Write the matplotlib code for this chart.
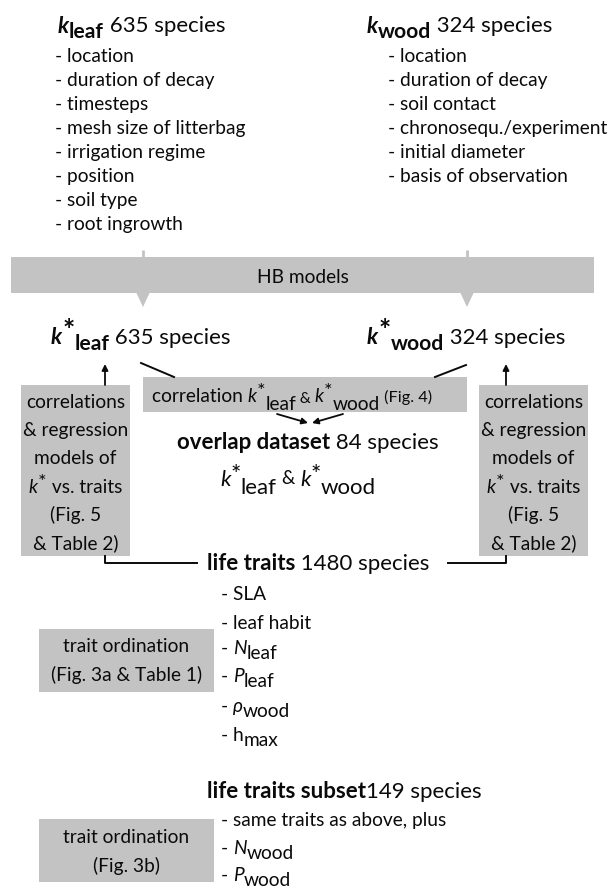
import matplotlib
matplotlib.use("Agg")
import matplotlib.pyplot as plt
from matplotlib.patches import Rectangle, Polygon

plt.rcParams['font.family'] = ['Lato', 'DejaVu Sans']

# text content of the flow chart
n_leaf = 635
n_wood = 324
n_overlap = 84
n_traits = 1480
n_subset = 149
leaf_factors = ["location", "duration of decay", "timesteps", "mesh size of litterbag",
                "irrigation regime", "position", "soil type", "root ingrowth"]
wood_factors = ["location", "duration of decay", "soil contact", "chronosequ./experiment",
                "initial diameter", "basis of observation"]
side_box_lines = ["correlations", "& regression", "models of", None, "(Fig. 5", "& Table 2)"]
traits = [("SLA", None), ("leaf habit", None), ("N", "leaf"), ("P", "leaf"),
          ("ρ", "wood"), ("h", "max")]
subset_traits = [("same traits as above, plus", None), ("N", "wood"), ("P", "wood")]

GRAY = "#c3c3c3"
INK = "#0a0a0a"
BODY = 13.8
TITLE = 16

fig = plt.figure(figsize=(6.09, 8.90), dpi=100)
ax = fig.add_axes([0, 0, 1, 1])
ax.set_xlim(0, 609)
ax.set_ylim(890, 0)
ax.axis("off")
renderer = fig.canvas.get_renderer()

STYLES = {"r": ("normal", "normal"), "b": ("bold", "normal"),
          "i": ("normal", "italic"), "bi": ("bold", "italic")}


def rich(x, y, parts, size, ha="left"):
    """parts: (text, style, dy, scale); y is baseline, dy moves down"""
    items = []
    cur = 0
    for s, st, dy, sc in parts:
        w, sl = STYLES[st]
        t = ax.text(0, y + dy, s, fontsize=size * sc, fontweight=w, fontstyle=sl,
                    color=INK, va="baseline", ha="left")
        wd = t.get_window_extent(renderer).width
        items.append((t, cur))
        cur += wd
    x0 = x - cur / 2 if ha == "center" else x
    for t, off in items:
        t.set_x(x0 + off)
    return cur


# --- top titles and lists
rich(58, 33, [("k", "bi", 0, 1), ("leaf", "b", 5, 0.95), (" %d species" % n_leaf, "r", -1, 1)], TITLE)
for i, s in enumerate(leaf_factors):
    ax.text(55, 62 + 24 * i, "- " + s, fontsize=BODY, color=INK, va="baseline")

rich(367, 33, [("k", "bi", 0, 1), ("wood", "b", 5, 0.95), (" %d species" % n_wood, "r", -1, 1)], TITLE)
for i, s in enumerate(wood_factors):
    ax.text(388, 62 + 24 * i, "- " + s, fontsize=BODY, color=INK, va="baseline")

# --- HB models bar
for xc in (143, 467):
    ax.plot([xc, xc], [250, 258], color=GRAY, lw=2, solid_capstyle="butt")
    ax.add_patch(Polygon([[xc - 7, 292], [xc + 7, 292], [xc, 307]], closed=True, color=GRAY, lw=0))
ax.add_patch(Rectangle((11, 257), 583, 36, color=GRAY, lw=0))
ax.text(303, 283, "HB models", fontsize=BODY, color=INK, ha="center", va="baseline")

# --- k* titles
rich(51, 344, [("k", "bi", 0, 1), ("*", "b", -5, 1.3), ("leaf", "b", 6, 0.95),
               (" %d species" % n_leaf, "r", 0, 1)], TITLE)
rich(367, 344, [("k", "bi", 0, 1), ("*", "b", -5, 1.3), ("wood", "b", 6, 0.95),
                (" %d species" % n_wood, "r", 0, 1)], TITLE)

# connectors from k* to correlation box
ax.plot([141, 174], [363, 377], color=INK, lw=1.4)
ax.plot([466, 435], [365, 377], color=INK, lw=1.4)

# correlation box
ax.add_patch(Rectangle((143, 377), 324, 35, color=GRAY, lw=0))
rich(152, 402, [("correlation ", "r", 0, 1), ("k", "i", 0, 1), ("*", "r", -5, 1.05),
                ("leaf", "r", 8, 1), (" & ", "r", 1, 0.8), ("k", "i", 0, 1), ("*", "r", -5, 1.05),
                ("wood", "r", 8, 1), (" (Fig. 4)", "r", 0, 0.85)], BODY)

# arrows to overlap dataset
arrow = dict(arrowstyle="-|>", lw=1.3, color=INK, mutation_scale=9, shrinkA=0, shrinkB=0)
ax.annotate("", xy=(308, 423), xytext=(277, 414), arrowprops=arrow)
ax.annotate("", xy=(312, 423), xytext=(343, 414), arrowprops=arrow)

rich(308, 449, [("overlap dataset", "b", 0, 1), (" %d species" % n_overlap, "r", 0, 1)], TITLE, ha="center")
rich(298, 486, [("k", "i", 0, 1), ("*", "r", -5, 1.1), ("leaf", "r", 8, 1), (" & ", "r", -2, 0.85),
                ("k", "i", 0, 1), ("*", "r", -5, 1.1), ("wood", "r", 8, 1)], TITLE, ha="center")

# side boxes
for bx, ax_arrow in ((21, 105), (479, 506)):
    ax.add_patch(Rectangle((bx, 385), 109, 171, color=GRAY, lw=0))
    cx = bx + 54.5
    for j, s in enumerate(side_box_lines):
        yb = 408 + 28.2 * j
        if s is None:
            rich(cx, yb, [("k", "i", 0, 1), ("*", "r", -5, 1.05), (" vs. traits", "r", 0, 1)], BODY, ha="center")
        else:
            ax.text(cx, yb, s, fontsize=BODY, color=INK, ha="center", va="baseline")
    ax.annotate("", xy=(ax_arrow, 364), xytext=(ax_arrow, 385), arrowprops=arrow)

# brackets to life traits
ax.plot([105, 105, 197], [556, 563, 563], color=INK, lw=1.4)
ax.plot([448, 506, 506], [563, 563, 556], color=INK, lw=1.4)

rich(207, 570, [("life traits", "b", 0, 1), (" %d species" % n_traits, "r", 0, 1)], TITLE)


def trait_item(x, y, name, sub):
    if sub is None:
        ax.text(x, y, "- " + name, fontsize=BODY, color=INK, va="baseline")
    else:
        st = "r" if name == "h" else "i"
        rich(x, y, [("- ", "r", 0, 1), (name, st, 0, 1), (sub, "r", 5, 1)], BODY)


trait_y = [600, 629, 654, 682, 712, 741]
for (name, sub), yb in zip(traits, trait_y):
    trait_item(221, yb, name, sub)

ax.add_patch(Rectangle((39, 629), 175, 63, color=GRAY, lw=0))
ax.text(126.5, 652, "trait ordination", fontsize=BODY, color=INK, ha="center", va="baseline")
ax.text(126.5, 681, "(Fig. 3a & Table 1)", fontsize=BODY, color=INK, ha="center", va="baseline")

rich(207, 798, [("life traits subset", "b", 0, 1), ("%d species" % n_subset, "r", 0, 1)], TITLE)
subset_y = [826, 854, 881]
for (name, sub), yb in zip(subset_traits, subset_y):
    trait_item(221, yb, name, sub)

ax.add_patch(Rectangle((39, 819), 175, 63, color=GRAY, lw=0))
ax.text(126.5, 843, "trait ordination", fontsize=BODY, color=INK, ha="center", va="baseline")
ax.text(126.5, 872, "(Fig. 3b)", fontsize=BODY, color=INK, ha="center", va="baseline")

fig.savefig("out.png", dpi=100)
